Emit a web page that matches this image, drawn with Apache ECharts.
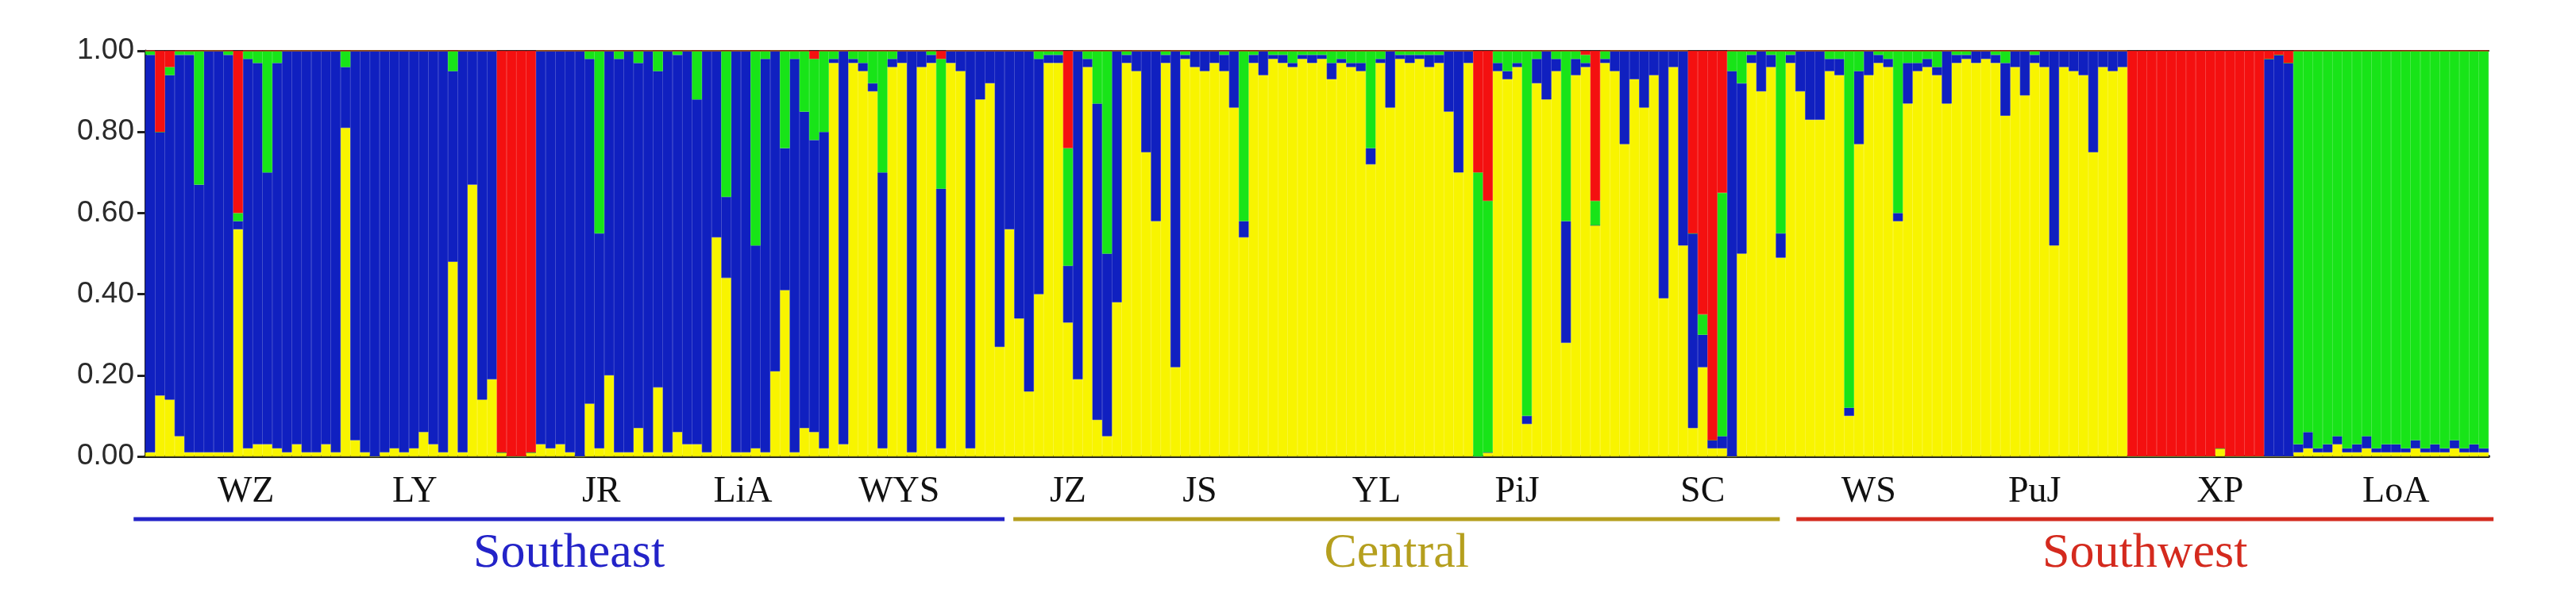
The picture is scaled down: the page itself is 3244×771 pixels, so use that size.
<!DOCTYPE html>
<html>
<head>
<meta charset="utf-8">
<script src="https://cdn.jsdelivr.net/npm/echarts@6/dist/echarts.min.js"></script>
<style>
  html, body { margin: 0; padding: 0; background: #fff; }
  #main { width: 3244px; height: 771px; }
</style>
</head>
<body>
<div id="main"></div>
<script>
// membership coefficients per individual (K = 4)
var yellowQ = [
  .01,.15,.14,.05,.01,.01,.01,.01,.01,.56, .02,.03,.03,.02,.01,.03,.01,.01,.03,.01,
  .81,.04,.01,0,.01,.02,.01,.02,.06,.03, .01,.48,.01,.67,.14,.19,.01,0,0,.01,
  .03,.02,.03,.01,0,.13,.02,.20,.01,.01, .07,.01,.17,.01,.06,.03,.03,.01,.54,.44,
  .01,.01,.02,.01,.21,.41,.01,.07,.06,.02, .97,.03,.97,.95,.90,.02,.96,.97,.01,.96,
  .97,.02,.97,.95,.02,.88,.92,.27,.56,.34, .16,.40,.97,.97,.33,.19,.96,.09,.05,.38,
  .97,.95,.75,.58,.97,.22,.98,.96,.95,.97, .95,.86,.54,.97,.94,.98,.97,.96,.98,.97,
  .98,.93,.97,.96,.95,.72,.97,.86,.98,.97, .98,.96,.97,.85,.70,.97,0,.01,.95,.93,
  .96,.08,.92,.88,.95,.28,.94,.96,.57,.97, .95,.77,.93,.86,.94,.39,.96,.52,.07,.22,
  .02,.02,0,.50,.97,.90,.96,.49,.97,.90, .83,.83,.95,.94,.10,.77,.94,.97,.96,.58,
  .87,.95,.96,.94,.87,.97,.98,.97,.98,.97, .84,.96,.89,.97,.96,.52,.96,.95,.94,.75,
  .96,.95,.96,0,0,0,0,0,0,0, 0,0,.02,0,0,0,0,0,0,0,
  .01,.02,.01,.01,.03,.01,.01,.02,.01,.01, .01,.01,.02,.01,.01,.01,.02,.01,.01,.01
];
var blueQ = [
  .98,.65,.80,.94,.98,.66,.99,.99,.98,.02, .96,.94,.67,.95,.99,.97,.99,.99,.97,.99,
  .15,.96,.99,1,.99,.98,.99,.98,.94,.97, .99,.47,.99,.33,.86,.81,0,0,0,0,
  .97,.98,.97,.99,1,.85,.53,.80,.97,.99, .90,.99,.78,.99,.93,.97,.85,.99,.46,.20,
  .99,.99,.50,.97,.79,.35,.97,.78,.72,.78, .01,.97,.01,.02,.02,.68,.02,.03,.99,.04,
  .02,.64,.03,.05,.98,.12,.08,.73,.44,.66, .84,.58,.02,.02,.14,.81,.02,.78,.45,.62,
  .02,.05,.25,.42,.02,.78,.01,.04,.05,.03, .04,.14,.04,.02,.06,.01,.02,.01,.01,.02,
  .01,.04,.01,.01,.02,.04,.01,.14,.01,.02, .01,.03,.02,.15,.30,.03,0,0,.02,.02,
  .01,.02,.06,.12,.03,.30,.04,.01,0,.01, .05,.23,.07,.14,.06,.61,.04,.48,.48,.08,
  .02,.03,.95,.42,.02,.10,.03,.06,.02,.10, .17,.17,.03,.04,.02,.18,.06,.02,.02,.02,
  .10,.02,.02,.02,.13,.02,.01,.03,.02,.02, .13,.04,.11,.02,.04,.48,.04,.05,.06,.25,
  .04,.05,.04,0,0,0,0,0,0,0, 0,0,0,0,0,0,0,.98,.99,.97,
  .02,.04,.01,.02,.02,.01,.02,.03,.01,.02, .02,.01,.02,.01,.02,.01,.02,.01,.02,.01
];
var greenQ = [
  .01,0,.02,.01,.01,.33,0,0,.01,.02, .02,.03,.30,.03,0,0,0,0,0,0,
  .04,0,0,0,0,0,0,0,0,0, 0,.05,0,0,0,0,0,0,0,0,
  0,0,0,0,0,.02,.45,0,.02,0, .03,0,.05,0,.01,0,.12,0,0,.36,
  0,0,.48,.02,0,.24,.02,.15,.20,.20, .02,0,.02,.03,.08,.30,.02,0,0,0,
  .01,.32,0,0,0,0,0,0,0,0, 0,.02,.01,.01,.29,0,.02,.13,.50,0,
  .01,0,0,0,.01,0,.01,0,0,0, .01,0,.42,.01,0,.01,.01,.03,.01,.01,
  .01,.03,.02,.03,.03,.24,.02,0,.01,.01, .01,.01,.01,0,0,0,.70,.62,.03,.05,
  .03,.90,.02,0,.02,.42,.02,.02,.06,.02, 0,0,0,0,0,0,0,0,0,.05,
  0,.60,.05,.08,.01,0,.01,.45,.01,0, 0,0,.02,.02,.88,.05,0,.01,.02,.40,
  .03,.03,.02,.04,0,.01,.01,0,0,.01, .03,0,0,.01,0,0,0,0,0,0,
  0,0,0,0,0,0,0,0,0,0, 0,0,0,0,0,0,0,0,0,0,
  .97,.94,.98,.97,.95,.98,.97,.95,.98,.97, .97,.98,.96,.98,.97,.98,.96,.98,.97,.98
];
var redQ = [
  0,.20,.04,0,0,0,0,0,0,.40, 0,0,0,0,0,0,0,0,0,0,
  0,0,0,0,0,0,0,0,0,0, 0,0,0,0,0,0,.99,1,1,.99,
  0,0,0,0,0,0,0,0,0,0, 0,0,0,0,0,0,0,0,0,0,
  0,0,0,0,0,0,0,0,.02,0, 0,0,0,0,0,0,0,0,0,0,
  0,.02,0,0,0,0,0,0,0,0, 0,0,0,0,.24,0,0,0,0,0,
  0,0,0,0,0,0,0,0,0,0, 0,0,0,0,0,0,0,0,0,0,
  0,0,0,0,0,0,0,0,0,0, 0,0,0,0,0,0,.30,.37,0,0,
  0,0,0,0,0,0,0,.01,.37,0, 0,0,0,0,0,0,0,0,.45,.65,
  .96,.35,0,0,0,0,0,0,0,0, 0,0,0,0,0,0,0,0,0,0,
  0,0,0,0,0,0,0,0,0,0, 0,0,0,0,0,0,0,0,0,0,
  0,0,0,1,1,1,1,1,1,1, 1,1,.98,1,1,1,1,.02,.01,.03,
  0,0,0,0,0,0,0,0,0,0, 0,0,0,0,0,0,0,0,0,0
];

// population labels and their centre (in individual index units)
var popNames = ['WZ', 'LY', 'JR', 'LiA', 'WYS', 'JZ', 'JS', 'YL', 'PiJ', 'SC', 'WS', 'PuJ', 'XP', 'LoA'];
var popPos = [9.8, 27.1, 46.2, 60.7, 76.7, 94, 107.5, 125.6, 140, 159, 176, 193, 212, 230];

// regions: name, start index, end index, colour
var regionNames = ['Southeast', 'Central', 'Southwest'];
var regionStart = [-1.7, 88.4, 168.6];
var regionEnd = [87.5, 166.9, 240];
var regionColors = ['#2323c8', '#b59f1e', '#d42a1e'];

var individuals = yellowQ.map(function (v, i) { return 'ind' + (i + 1); });

var gridLeft = 183, gridRight = 110, gridTop = 64, gridBottom = 196;
var plotW = 3244 - gridLeft - gridRight;
var n = individuals.length;

function xOf(pos) {
  return gridLeft + (pos + 0.5) * plotW / n;
}

var chart = echarts.init(document.getElementById('main'));

function barSeries(name, data, color) {
  return {
    name: name,
    type: 'bar',
    stack: 'q',
    data: data,
    barWidth: '100%',
    barCategoryGap: 0,
    itemStyle: { color: color, borderColor: color, borderWidth: 0.6 },
    silent: true,
    animation: false
  };
}

var graphics = [];
popNames.forEach(function (name, k) {
  graphics.push({
    type: 'text',
    x: xOf(popPos[k]),
    y: 620,
    style: {
      text: name,
      font: '46px "Liberation Serif", "DejaVu Serif", serif',
      fill: '#111',
      textAlign: 'center',
      textVerticalAlign: 'middle'
    }
  });
});
regionNames.forEach(function (name, k) {
  var x1 = xOf(regionStart[k]), x2 = xOf(regionEnd[k]);
  graphics.push({
    type: 'line',
    shape: { x1: x1, y1: 654, x2: x2, y2: 654 },
    style: { stroke: regionColors[k], lineWidth: 5 }
  });
  graphics.push({
    type: 'text',
    x: (x1 + x2) / 2,
    y: 698,
    style: {
      text: name,
      font: '62px "Liberation Serif", "DejaVu Serif", serif',
      fill: regionColors[k],
      textAlign: 'center',
      textVerticalAlign: 'middle'
    }
  });
});

var option = {
  backgroundColor: '#fff',
  animation: false,
  grid: { left: gridLeft, right: gridRight, top: gridTop, bottom: gridBottom },
  xAxis: [
    {
      type: 'category',
      data: individuals,
      axisLine: { lineStyle: { color: '#222', width: 4 } },
      axisTick: { show: false },
      axisLabel: { show: false }
    },
    {
      type: 'category',
      position: 'top',
      data: individuals,
      axisLine: { lineStyle: { color: '#222', width: 2 } },
      axisTick: { show: false },
      axisLabel: { show: false }
    }
  ],
  yAxis: {
    type: 'value',
    min: 0,
    max: 1,
    interval: 0.2,
    axisLine: { show: true, lineStyle: { color: '#222', width: 3 } },
    axisTick: { show: true, length: 10, lineStyle: { color: '#222', width: 3 } },
    splitLine: { show: false },
    axisLabel: {
      fontSize: 37,
      fontFamily: '"Liberation Sans", Arial, sans-serif',
      color: '#2a2a2a',
      margin: 14,
      formatter: function (v) { return v.toFixed(2); }
    }
  },
  series: [
    barSeries('cluster 1', yellowQ, '#f8f400'),
    barSeries('cluster 2', blueQ, '#1020c0'),
    barSeries('cluster 3', greenQ, '#18e418'),
    barSeries('cluster 4', redQ, '#f41010')
  ],
  graphic: graphics
};

chart.setOption(option);
</script>
</body>
</html>
